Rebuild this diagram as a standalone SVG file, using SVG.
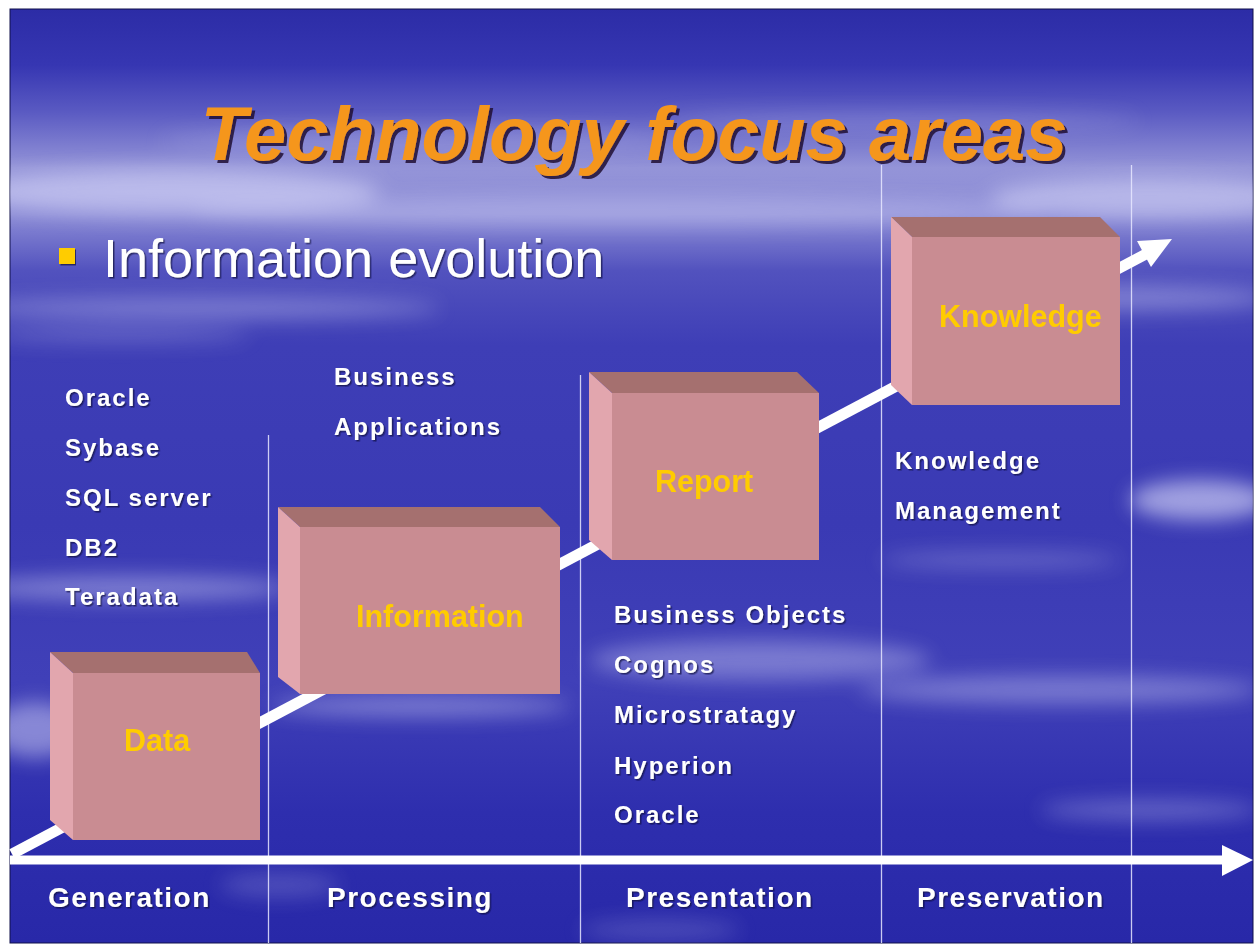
<svg xmlns="http://www.w3.org/2000/svg" width="1256" height="945" viewBox="0 0 1256 945">
<defs>
<linearGradient id="bg" x1="0" y1="9" x2="0" y2="943" gradientUnits="userSpaceOnUse">
<stop offset="0" stop-color="#2C2CA6"/>
<stop offset="0.06" stop-color="#3636B2"/>
<stop offset="0.11" stop-color="#5A5AC2"/>
<stop offset="0.17" stop-color="#9494D8"/>
<stop offset="0.22" stop-color="#8C8CD6"/>
<stop offset="0.28" stop-color="#5252BE"/>
<stop offset="0.36" stop-color="#3E3EB6"/>
<stop offset="0.55" stop-color="#3A3AB4"/>
<stop offset="0.72" stop-color="#4040B8"/>
<stop offset="0.86" stop-color="#2E2EAE"/>
<stop offset="1" stop-color="#2828A8"/>
</linearGradient>
<clipPath id="slide"><rect x="10" y="9" width="1243" height="934"/></clipPath>
<filter id="blur" x="-30%" y="-200%" width="160%" height="500%"><feGaussianBlur stdDeviation="10"/></filter>
<filter id="shadow" x="-5%" y="-20%" width="110%" height="140%"><feDropShadow dx="3" dy="3" stdDeviation="0.6" flood-color="#1A1030" flood-opacity="0.85"/></filter>
<filter id="tshadow" x="-5%" y="-20%" width="110%" height="140%"><feDropShadow dx="1.5" dy="1.5" stdDeviation="0.5" flood-color="#101040" flood-opacity="0.7"/></filter>
<style>
.front{fill:#C98C92;}
.top{fill:#A5706F;}
.side{fill:#E2A6AE;}
.blabel{font-family:"Liberation Sans",Arial,sans-serif;font-weight:bold;font-size:30.5px;fill:#FFCC00;}
.list{font-family:"Liberation Sans",Arial,sans-serif;font-weight:bold;font-size:24px;letter-spacing:2px;fill:#FFFFFF;}
.axis{font-family:"Liberation Sans",Arial,sans-serif;font-weight:bold;font-size:28px;letter-spacing:1.5px;fill:#FFFFFF;}
.sep{stroke:#E8E8FF;stroke-width:1.3;opacity:0.85;}
.cloud{fill:#E6E6FF;}
</style>
</defs>

<rect x="0" y="0" width="1256" height="945" fill="#FFFFFF"/>
<g id="background">
<rect x="10" y="9" width="1243" height="934" fill="url(#bg)" stroke="#10104A" stroke-width="1"/>
<g clip-path="url(#slide)">
<g filter="url(#blur)">
<ellipse class="cloud" cx="170" cy="192" rx="210" ry="22" opacity="0.5"/>
<ellipse class="cloud" cx="1150" cy="198" rx="160" ry="20" opacity="0.45"/>
<ellipse class="cloud" cx="620" cy="212" rx="430" ry="14" opacity="0.3"/>
<ellipse class="cloud" cx="420" cy="140" rx="260" ry="10" opacity="0.2"/>
<ellipse class="cloud" cx="900" cy="120" rx="240" ry="8" opacity="0.2"/>
<ellipse class="cloud" cx="200" cy="308" rx="240" ry="10" opacity="0.35"/>
<ellipse class="cloud" cx="120" cy="335" rx="130" ry="7" opacity="0.25"/>
<ellipse class="cloud" cx="1120" cy="298" rx="150" ry="12" opacity="0.35"/>
<ellipse class="cloud" cx="1200" cy="500" rx="70" ry="20" opacity="0.6"/>
<ellipse class="cloud" cx="130" cy="588" rx="160" ry="12" opacity="0.4"/>
<ellipse class="cloud" cx="760" cy="660" rx="170" ry="20" opacity="0.35"/>
<ellipse class="cloud" cx="1060" cy="690" rx="200" ry="14" opacity="0.35"/>
<ellipse class="cloud" cx="420" cy="706" rx="150" ry="10" opacity="0.4"/>
<ellipse class="cloud" cx="35" cy="730" rx="45" ry="28" opacity="0.45"/>
<ellipse class="cloud" cx="1150" cy="810" rx="110" ry="10" opacity="0.3"/>
<ellipse class="cloud" cx="1000" cy="560" rx="120" ry="8" opacity="0.25"/>
<ellipse class="cloud" cx="280" cy="885" rx="60" ry="12" opacity="0.2"/>
<ellipse class="cloud" cx="660" cy="930" rx="80" ry="10" opacity="0.2"/>
</g>
</g>
</g>

<g id="title">
<text x="634" y="160" text-anchor="middle" font-family="'Liberation Sans',Arial,sans-serif" font-weight="bold" font-style="italic" font-size="76" fill="#F5961E" filter="url(#shadow)">Technology focus areas</text>
</g>

<g id="subtitle">
<rect x="59" y="248" width="16" height="16" fill="#FFCC00" filter="url(#tshadow)"/>
<text x="103" y="277" font-family="'Liberation Sans',Arial,sans-serif" font-size="54" fill="#FFFFFF" filter="url(#tshadow)">Information evolution</text>
</g>

<g id="separators">
<line class="sep" x1="268.5" y1="435" x2="268.5" y2="943"/>
<line class="sep" x1="580.5" y1="375" x2="580.5" y2="943"/>
<line class="sep" x1="881.5" y1="165" x2="881.5" y2="943"/>
<line class="sep" x1="1131.5" y1="165" x2="1131.5" y2="943"/>
</g>

<g id="connectors">
<line x1="10" y1="860" x2="1226" y2="860" stroke="#FFFFFF" stroke-width="9"/>
<polygon points="1222,845 1253,860 1222,876" fill="#FFFFFF"/>
<line x1="12" y1="854" x2="1146" y2="254" stroke="#FFFFFF" stroke-width="11"/>
<polygon points="1172,239 1151,267 1137,241" fill="#FFFFFF"/>
</g>

<g id="node-data">
<polygon class="top" points="50,652 247,652 260,673 73,673"/>
<polygon class="side" points="50,652 73,673 73,840 50,820"/>
<rect class="front" x="73" y="673" width="187" height="167"/>
<text class="blabel" x="124" y="751">Data</text>
</g>

<g id="node-information">
<polygon class="top" points="278,507 540,507 560,527 300,527"/>
<polygon class="side" points="278,507 300,527 300,694 278,677"/>
<rect class="front" x="300" y="527" width="260" height="167"/>
<text class="blabel" x="356" y="627">Information</text>
</g>

<g id="node-report">
<polygon class="top" points="589,372 797,372 819,393 612,393"/>
<polygon class="side" points="589,372 612,393 612,560 589,540"/>
<rect class="front" x="612" y="393" width="207" height="167"/>
<text class="blabel" x="655" y="492">Report</text>
</g>

<g id="node-knowledge">
<polygon class="top" points="891,217 1100,217 1120,237 912,237"/>
<polygon class="side" points="891,217 912,237 912,405 891,385"/>
<rect class="front" x="912" y="237" width="208" height="168"/>
<text class="blabel" x="939" y="327">Knowledge</text>
</g>

<g id="list-generation" filter="url(#tshadow)">
<text class="list" x="65" y="406">Oracle</text>
<text class="list" x="65" y="456">Sybase</text>
<text class="list" x="65" y="506">SQL server</text>
<text class="list" x="65" y="556">DB2</text>
<text class="list" x="65" y="605">Teradata</text>
</g>

<g id="list-processing" filter="url(#tshadow)">
<text class="list" x="334" y="385">Business</text>
<text class="list" x="334" y="435">Applications</text>
</g>

<g id="list-presentation" filter="url(#tshadow)">
<text class="list" x="614" y="623">Business Objects</text>
<text class="list" x="614" y="673">Cognos</text>
<text class="list" x="614" y="723">Microstratagy</text>
<text class="list" x="614" y="774">Hyperion</text>
<text class="list" x="614" y="823">Oracle</text>
</g>

<g id="list-preservation" filter="url(#tshadow)">
<text class="list" x="895" y="469">Knowledge</text>
<text class="list" x="895" y="519">Management</text>
</g>

<g id="axis-labels" filter="url(#tshadow)">
<text class="axis" x="48" y="907">Generation</text>
<text class="axis" x="327" y="907">Processing</text>
<text class="axis" x="626" y="907">Presentation</text>
<text class="axis" x="917" y="907">Preservation</text>
</g>
</svg>
